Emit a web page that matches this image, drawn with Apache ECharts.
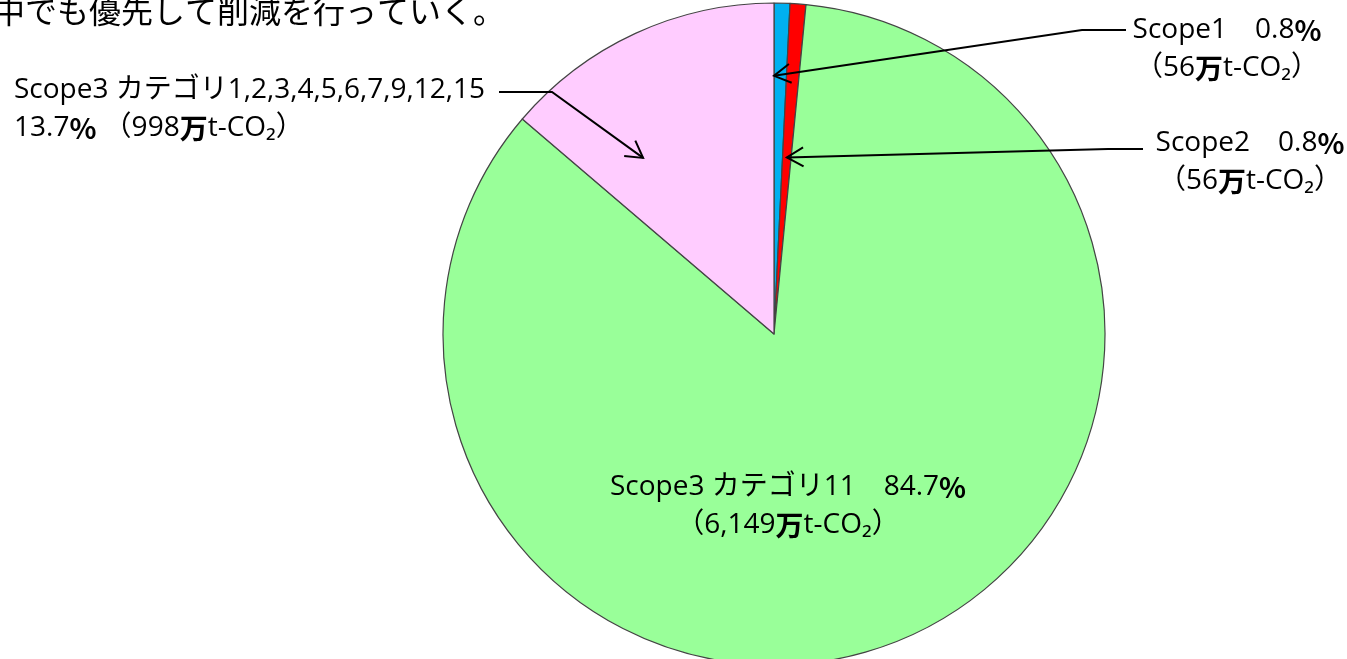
<!DOCTYPE html>
<html>
<head>
<meta charset="utf-8">
<title>GHG排出量の内訳</title>
<script src="https://cdn.jsdelivr.net/npm/echarts@6/dist/echarts.min.js"></script>
<style>
html,body{margin:0;padding:0;background:#fff;overflow:hidden;}
#chart{width:1347px;height:659px;}
</style>
</head>
<body>
<div id="chart"></div>
<script>
// データ（万t-CO2）
var names = ['Scope1', 'Scope2', 'Scope3 カテゴリ11', 'Scope3 カテゴリ1,2,3,4,5,6,7,9,12,15'];
var values = [56, 56, 6149, 998];
var colors = ['#00B0F0', '#FF0000', '#99FF99', '#FFCCFF'];
var titleText = '中でも優先して削減を行っていく。';

var font = "'Open Sans', 'Noto Sans CJK JP', sans-serif";
var jpFont = "'Noto Sans CJK JP', sans-serif";
var cx = 774, cy = 334, R = 331;

// ラベルの置き場所
var labelPos = [
    {x: 1227, y: 11, align: 'center'},
    {x: 1250, y: 124, align: 'center'},
    {x: 788, y: 468, align: 'center'},
    {x: 14, y: 71, align: 'left'}
];
// 引き出し線：扇形の中の位置(frac=角度の割合, rf=半径の割合)と折れ点
var leaders = [
    {frac: 0, rf: 0.78, elbow: [1082, 30], end: [1126, 30]},
    {frac: 0.5, rf: 0.535, elbow: [1108, 149], end: [1143, 149]},
    null,
    {frac: 0.26, rf: 0.663, elbow: [552, 92], end: [499, 92]}
];

var total = values.reduce(function(a, b){ return a + b; }, 0);
var angles = [], acc = 0;
values.forEach(function(v){
    angles.push([acc / total * 360, (acc + v) / total * 360]);
    acc += v;
});
function tipPoint(i){
    var ld = leaders[i];
    var a = (angles[i][0] + ld.frac * (angles[i][1] - angles[i][0])) * Math.PI / 180;
    return [cx + ld.rf * R * Math.sin(a), cy - ld.rf * R * Math.cos(a)];
}
// 引き出し線と矢印
function leaderLine(i){
    var t = tipPoint(i), e = leaders[i].elbow;
    var dx = e[0] - t[0], dy = e[1] - t[1];
    var len = Math.sqrt(dx * dx + dy * dy);
    var ux = dx / len, uy = dy / len;
    var L = 19, th = 30 * Math.PI / 180;
    var w1 = [t[0] + L * (ux * Math.cos(th) - uy * Math.sin(th)), t[1] + L * (ux * Math.sin(th) + uy * Math.cos(th))];
    var w2 = [t[0] + L * (ux * Math.cos(-th) - uy * Math.sin(-th)), t[1] + L * (ux * Math.sin(-th) + uy * Math.cos(-th))];
    var st = {stroke: '#000', lineWidth: 2, fill: null};
    return [
        {type: 'polyline', z: 100, silent: true, shape: {points: [t, e, leaders[i].end]}, style: st},
        {type: 'polyline', z: 100, silent: true, shape: {points: [w1, t, w2]}, style: st}
    ];
}

var pieData = names.map(function(n, i){
    return {name: n, value: values[i], itemStyle: {color: colors[i]}};
});

var graphics = [{
    type: 'text',
    left: -7,
    top: -5,
    z: 100,
    style: {text: titleText, font: '32px ' + jpFont, fill: '#000'}
}];
leaders.forEach(function(ld, i){
    if (ld) graphics = graphics.concat(leaderLine(i));
});

var myChart = echarts.init(document.getElementById('chart'));
var option = {
    animation: false,
    series: [{
        type: 'pie',
        center: [cx, cy],
        radius: R,
        startAngle: 90,
        clockwise: true,
        percentPrecision: 1,
        avoidLabelOverlap: false,
        silent: true,
        itemStyle: {borderColor: '#444', borderWidth: 1.2},
        label: {
            show: true,
            position: 'outside',
            color: '#000',
            fontFamily: font,
            fontSize: 28,
            lineHeight: 38,
            formatter: function(p){
                var pct = p.percent.toFixed(1);
                var val = echarts.format.addCommas(p.value);
                if (p.dataIndex === 3) {
                    return p.name + '\n' + pct + '{j|%} （' + val + '{j|万}t-CO₂）';
                }
                return p.name + '　' + pct + '{j|%}\n（' + val + '{j|万}t-CO₂）';
            },
            rich: {
                j: {fontFamily: jpFont, fontWeight: 'bold', fontSize: 28, lineHeight: 38, color: '#000'}
            }
        },
        labelLine: {show: false},
        labelLayout: function(p){
            var pos = labelPos[p.dataIndex];
            return {x: pos.x, y: pos.y, align: pos.align, verticalAlign: 'top'};
        },
        data: pieData
    }],
    graphic: graphics
};
myChart.setOption(option);
</script>
</body>
</html>
